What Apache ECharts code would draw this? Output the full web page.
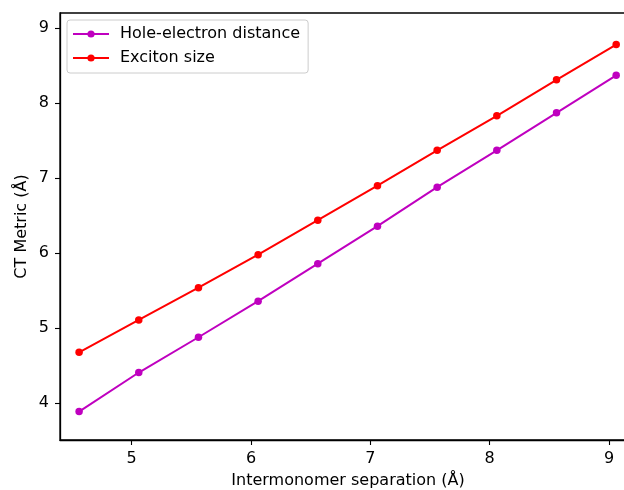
<!DOCTYPE html>
<html>
<head>
<meta charset="utf-8">
<script src="https://cdn.jsdelivr.net/npm/echarts@6/dist/echarts.min.js"></script>
<style>
  html, body { margin: 0; padding: 0; background: #fff; overflow: hidden; }
  #chart { width: 624px; height: 490px; }
</style>
</head>
<body>
<div id="chart"></div>
<script>
const separation = [4.56, 5.06, 5.56, 6.06, 6.56, 7.06, 7.56, 8.06, 8.56, 9.06];
const holeElectron = [3.89, 4.41, 4.88, 5.36, 5.86, 6.36, 6.88, 7.37, 7.87, 8.37];
const excitonSize = [4.68, 5.11, 5.54, 5.98, 6.44, 6.90, 7.37, 7.83, 8.31, 8.78];
const xTicks = [5, 6, 7, 8, 9];
const yTicks = [4, 5, 6, 7, 8, 9];

const font = 'DejaVu Sans';
const chart = echarts.init(document.getElementById('chart'));

function pairs(ys) {
    return separation.map((x, i) => [x, ys[i]]);
}

function lineSeries(name, color, ys) {
    return {
        name: name,
        type: 'line',
        data: pairs(ys),
        symbol: 'circle',
        symbolSize: 7.5,
        showSymbol: true,
        lineStyle: { color: color, width: 2 },
        itemStyle: { color: color },
        emphasis: { disabled: true }
    };
}

const option = {
    animation: false,
    backgroundColor: '#fff',
    textStyle: { fontFamily: font },
    grid: {
        left: 60,
        top: 13,
        width: 576,
        height: 427,
        outerBoundsMode: 'none',
        show: true,
        borderColor: '#000',
        borderWidth: 1.3
    },
    legend: {
        orient: 'vertical',
        left: 67,
        top: 20,
        padding: [6, 8, 7, 5],
        itemWidth: 36,
        itemHeight: 9,
        itemGap: 8,
        borderColor: '#cccccc',
        borderWidth: 1,
        borderRadius: 3,
        backgroundColor: 'rgba(255,255,255,0.8)',
        textStyle: { fontFamily: font, fontSize: 16, color: '#000', padding: [0, 0, 0, 6] },
        data: ['Hole-electron distance', 'Exciton size']
    },
    xAxis: {
        type: 'value',
        min: 4.40,
        max: 9.226,
        name: 'Intermonomer separation (Å)',
        nameLocation: 'middle',
        nameGap: 33,
        nameMoveOverlap: false,
        nameTextStyle: { fontFamily: font, fontSize: 16, color: '#000' },
        axisLine: { show: true, lineStyle: { color: '#000', width: 1.3 } },
        axisTick: { show: true, length: 5, lineStyle: { color: '#000', width: 1.1 }, customValues: xTicks },
        axisLabel: { fontFamily: font, fontSize: 16, color: '#000', margin: 11, customValues: xTicks },
        splitLine: { show: false }
    },
    yAxis: {
        type: 'value',
        min: 3.511,
        max: 9.2,
        name: 'CT Metric (Å)',
        nameLocation: 'middle',
        nameGap: 30,
        nameMoveOverlap: false,
        nameTextStyle: { fontFamily: font, fontSize: 16, color: '#000' },
        axisLine: { show: true, lineStyle: { color: '#000', width: 1.3 } },
        axisTick: { show: true, length: 5, lineStyle: { color: '#000', width: 1.1 }, customValues: yTicks },
        axisLabel: { fontFamily: font, fontSize: 16, color: '#000', margin: 11, customValues: yTicks },
        splitLine: { show: false }
    },
    series: [
        lineSeries('Hole-electron distance', '#bf00bf', holeElectron),
        lineSeries('Exciton size', '#ff0000', excitonSize)
    ]
};

chart.setOption(option);
</script>
</body>
</html>
